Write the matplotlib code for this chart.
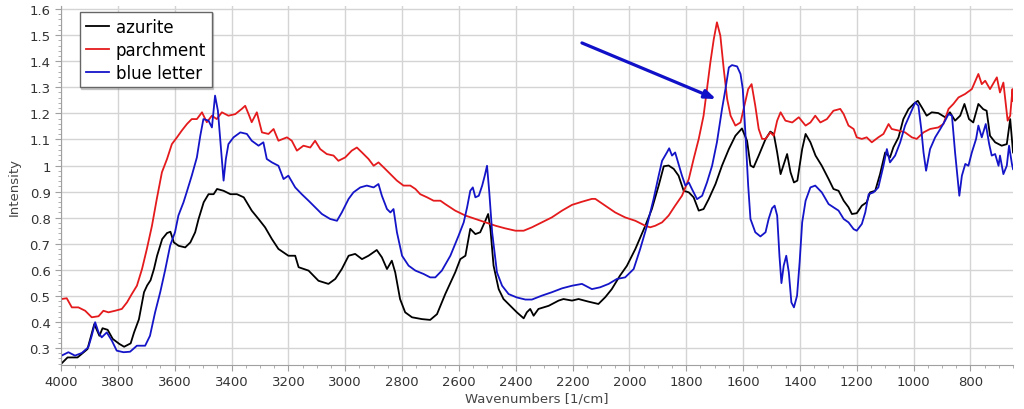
import matplotlib
matplotlib.use("Agg")
import matplotlib.pyplot as plt
from matplotlib.ticker import MultipleLocator, FuncFormatter

azurite_wn = [4000, 3977, 3942, 3907, 3883, 3865, 3854, 3836, 3818, 3795, 3778, 3755, 3743, 3726, 3708, 3697, 3685, 3673, 3662, 3644, 3627, 3615, 3603, 3586, 3563, 3545, 3528, 3516, 3498, 3481, 3463, 3451, 3428, 3404, 3381, 3357,
              3329, 3305, 3282, 3258, 3235, 3200, 3176, 3164, 3129, 3094, 3059, 3035, 3012, 2988, 2965, 2941, 2918, 2889, 2871, 2853, 2836, 2824, 2807, 2789, 2765, 2730, 2701, 2677, 2660, 2648, 2613, 2595, 2577, 2560, 2542, 2525, 2507, 2497, 2489, 2478, 2460, 2443, 2419, 2396, 2372, 2361, 2349, 2337, 2320, 2284, 2249, 2232, 2202, 2179, 2144, 2109, 2085, 2062, 2033, 2009,
              1979, 1944, 1921, 1897, 1879, 1862, 1844, 1827, 1809, 1791, 1774, 1756, 1739, 1721, 1697, 1674, 1650, 1627, 1604, 1586, 1574, 1563, 1545, 1521, 1504, 1492, 1480, 1468, 1445, 1433, 1421, 1409, 1392, 1380, 1363, 1345, 1323, 1299, 1282, 1264, 1246, 1229, 1217, 1200, 1182, 1165, 1153, 1135, 1118, 1100, 1083, 1071, 1053, 1036, 1018, 1000, 985, 971, 954, 936, 913, 889, 872, 854, 836, 821, 805, 790, 772, 755, 743, 731, 713, 690, 672, 660, 650]
azurite_int = [0.239, 0.264, 0.264, 0.296, 0.392, 0.347, 0.376, 0.37, 0.335, 0.316, 0.305, 0.318, 0.36, 0.41, 0.514, 0.54, 0.56, 0.603, 0.654, 0.718, 0.741, 0.746, 0.705, 0.692, 0.686, 0.705, 0.744, 0.795, 0.859, 0.89, 0.89, 0.91, 0.903, 0.89, 0.89, 0.878,
               0.827, 0.795, 0.763, 0.718, 0.68, 0.654, 0.654, 0.61, 0.597, 0.558, 0.546, 0.565, 0.603, 0.654, 0.661, 0.641, 0.654, 0.676, 0.648, 0.603, 0.635, 0.59, 0.488, 0.437, 0.418, 0.411, 0.408, 0.43, 0.475, 0.507, 0.59, 0.641, 0.654, 0.757, 0.737, 0.744, 0.788, 0.814, 0.757, 0.616, 0.526, 0.488, 0.462, 0.437, 0.414, 0.437, 0.45, 0.424, 0.45, 0.462, 0.482, 0.488, 0.482, 0.488, 0.478, 0.469, 0.495, 0.526, 0.578, 0.615,
               0.68, 0.769, 0.833, 0.923, 0.997, 1.0, 0.987, 0.961, 0.903, 0.897, 0.878, 0.827, 0.833, 0.871, 0.929, 1.0, 1.063, 1.114, 1.142, 1.095, 1.0, 0.993, 1.038, 1.101, 1.13, 1.121, 1.05, 0.967, 1.044, 0.974, 0.935, 0.942, 1.063, 1.121, 1.089, 1.038, 0.999, 0.948, 0.91, 0.903, 0.865, 0.84, 0.814, 0.817, 0.846, 0.859, 0.897, 0.903, 0.967, 1.05, 1.031, 1.07, 1.108, 1.178, 1.216, 1.236, 1.248, 1.223, 1.191, 1.204, 1.201, 1.185, 1.204, 1.172, 1.191, 1.236, 1.178, 1.165, 1.236, 1.216, 1.21, 1.114, 1.089, 1.076, 1.082, 1.178, 1.05]

parchment_wn = [3998, 3980, 3962, 3939, 3915, 3892, 3868, 3851, 3833, 3810, 3786, 3768, 3751, 3733, 3715, 3698, 3680, 3663, 3645, 3627, 3610, 3592, 3575, 3557, 3540, 3522, 3504, 3487, 3469, 3452, 3434, 3411, 3387, 3364, 3352, 3340, 3329, 3311, 3293, 3270, 3252, 3235, 3205, 3188, 3170, 3147, 3123, 3106, 3088, 3065, 3041, 3024, 3000, 2977, 2959, 2941, 2918, 2900, 2883, 2865, 2841, 2818, 2795, 2771, 2753, 2736, 2712, 2689, 2665, 2648, 2613, 2577, 2542, 2507, 2471, 2437, 2401, 2372, 2343, 2308, 2273, 2237, 2202, 2167, 2132, 2120, 2085, 2050, 2015,
                1979, 1944, 1927, 1909, 1885, 1862, 1839, 1815, 1791, 1774, 1756, 1739, 1727, 1715, 1703, 1692, 1680, 1668, 1656, 1644, 1627, 1609, 1598, 1582, 1570, 1557, 1545, 1533, 1521, 1504, 1492, 1480, 1468, 1451, 1427, 1404, 1380, 1363, 1346, 1328, 1305, 1282, 1258, 1246, 1229, 1211, 1200, 1182, 1165, 1147, 1124, 1106, 1088, 1077, 1053, 1030, 1006, 989, 965, 942, 913, 895, 877, 860, 842, 819, 795, 772, 760, 748, 731, 707, 696, 684, 669, 660, 652, 650]
parchment_int = [0.488, 0.491, 0.456, 0.456, 0.443, 0.418, 0.422, 0.443, 0.437, 0.443, 0.45, 0.475, 0.507, 0.539, 0.603, 0.68, 0.769, 0.872, 0.974, 1.025, 1.082, 1.108, 1.134, 1.159, 1.178, 1.178, 1.204, 1.166, 1.191, 1.178, 1.204, 1.191, 1.197, 1.217, 1.229, 1.197, 1.166, 1.204, 1.127, 1.121, 1.14, 1.095, 1.108, 1.095, 1.057, 1.076, 1.069, 1.095, 1.063, 1.044, 1.038, 1.018, 1.031, 1.057, 1.069, 1.05, 1.025, 0.999, 1.012, 0.993, 0.967, 0.942, 0.923, 0.923, 0.91, 0.89, 0.878, 0.865, 0.865, 0.852, 0.827, 0.808, 0.795, 0.782, 0.769, 0.759, 0.75, 0.75, 0.763, 0.782, 0.801, 0.827, 0.849, 0.861, 0.872, 0.872, 0.846, 0.82, 0.801,
                 0.788, 0.769, 0.763, 0.769, 0.782, 0.808, 0.846, 0.884, 0.948, 1.025, 1.102, 1.191, 1.293, 1.396, 1.485, 1.549, 1.498, 1.37, 1.255, 1.191, 1.153, 1.165, 1.217, 1.293, 1.312, 1.229, 1.14, 1.102, 1.102, 1.127, 1.114, 1.172, 1.204, 1.172, 1.165, 1.185, 1.153, 1.165, 1.191, 1.165, 1.178, 1.21, 1.217, 1.197, 1.153, 1.14, 1.108, 1.102, 1.108, 1.089, 1.108, 1.121, 1.159, 1.14, 1.134, 1.127, 1.108, 1.102, 1.127, 1.14, 1.146, 1.159, 1.217, 1.236, 1.261, 1.274, 1.293, 1.351, 1.312, 1.325, 1.293, 1.338, 1.28, 1.318, 1.172, 1.191, 1.293, 1.248]

blue_wn = [3998, 3974, 3951, 3927, 3904, 3892, 3880, 3868, 3857, 3839, 3821, 3804, 3780, 3757, 3733, 3704, 3687, 3669, 3651, 3634, 3616, 3599, 3587, 3569, 3558, 3540, 3522, 3510, 3499, 3481, 3469, 3458, 3448, 3438, 3428, 3420, 3411, 3393, 3369, 3346, 3329, 3305, 3288, 3276, 3258, 3235, 3217, 3200, 3176, 3153, 3129, 3106, 3082, 3053, 3029, 3012, 2988, 2971, 2947, 2924, 2900, 2883, 2871, 2853, 2841, 2830, 2818, 2800, 2777, 2753, 2724, 2701, 2683, 2660, 2630, 2601, 2583, 2571, 2560, 2551, 2542, 2530, 2518, 2509, 2501, 2493, 2483, 2466, 2448, 2425, 2396, 2366, 2343, 2308, 2273, 2237, 2202, 2167, 2132, 2103, 2073, 2044, 2015,
           1985, 1962, 1938, 1915, 1897, 1885, 1868, 1860, 1850, 1839, 1827, 1815, 1803, 1791, 1780, 1762, 1744, 1727, 1709, 1692, 1674, 1662, 1650, 1639, 1621, 1609, 1601, 1592, 1582, 1574, 1557, 1539, 1521, 1510, 1498, 1489, 1480, 1472, 1465, 1457, 1448, 1439, 1430, 1421, 1410, 1401, 1392, 1380, 1363, 1346, 1323, 1299, 1282, 1264, 1246, 1229, 1211, 1200, 1182, 1170, 1158, 1141, 1124, 1106, 1094, 1083, 1065, 1047, 1030, 1012, 994, 983, 973, 965, 956, 942, 924, 906, 889, 877, 865, 854, 839, 830, 818, 807, 795, 780, 772, 760, 746, 734, 725, 713, 701, 696, 684, 672, 664, 654, 650]
blue_int = [0.271, 0.284, 0.271, 0.281, 0.303, 0.347, 0.399, 0.36, 0.341, 0.36, 0.328, 0.29, 0.284, 0.286, 0.309, 0.309, 0.347, 0.437, 0.514, 0.597, 0.693, 0.744, 0.808, 0.859, 0.897, 0.961, 1.031, 1.114, 1.178, 1.172, 1.146, 1.268, 1.21, 1.076, 0.942, 1.025, 1.082, 1.108, 1.127, 1.121, 1.095, 1.076, 1.089, 1.025, 1.012, 0.999, 0.948, 0.961, 0.916, 0.89, 0.865, 0.84, 0.814, 0.795, 0.788, 0.82, 0.872, 0.897, 0.916, 0.923, 0.916, 0.929, 0.884, 0.833, 0.82, 0.833, 0.744, 0.654, 0.616, 0.597, 0.584, 0.571, 0.571, 0.597, 0.654, 0.731, 0.782, 0.84, 0.903, 0.916, 0.878, 0.884, 0.923, 0.961, 0.999, 0.897, 0.744, 0.59, 0.539, 0.507, 0.494, 0.486, 0.486, 0.501, 0.514, 0.529, 0.539, 0.546, 0.526, 0.533, 0.546, 0.565, 0.571,
            0.603, 0.68, 0.769, 0.871, 0.961, 1.018, 1.05, 1.066, 1.038, 1.05, 1.006, 0.961, 0.923, 0.935, 0.91, 0.871, 0.884, 0.935, 0.999, 1.089, 1.217, 1.293, 1.376, 1.385, 1.38, 1.351, 1.293, 1.127, 0.923, 0.795, 0.744, 0.728, 0.744, 0.795, 0.836, 0.846, 0.808, 0.654, 0.549, 0.616, 0.654, 0.59, 0.475, 0.456, 0.501, 0.629, 0.782, 0.865, 0.916, 0.923, 0.897, 0.852, 0.84, 0.827, 0.795, 0.782, 0.756, 0.75, 0.776, 0.82, 0.89, 0.897, 0.916, 0.999, 1.063, 1.012, 1.038, 1.089, 1.153, 1.197, 1.242, 1.229, 1.14, 1.05, 0.98, 1.063, 1.108, 1.14, 1.172, 1.197, 1.191, 1.05, 0.884, 0.961, 1.006, 0.999, 1.05, 1.102, 1.153, 1.108, 1.159, 1.082, 1.038, 1.044, 0.999, 1.038, 0.967, 0.999, 1.076, 1.006, 0.986]

series_labels = ["azurite", "parchment", "blue letter"]
x_ticks = [4000, 3800, 3600, 3400, 3200, 3000, 2800, 2600, 2400, 2200, 2000, 1800, 1600, 1400, 1200, 1000, 800]
arrow_start = (2167, 1.47)
arrow_end = (1695, 1.255)

fig = plt.figure(figsize=(10.24, 4.10), dpi=100)
ax = fig.add_axes([0.0596, 0.1073, 0.9297, 0.8746])

ax.plot(azurite_wn, azurite_int, color="black", lw=1.3, label=series_labels[0])
ax.plot(parchment_wn, parchment_int, color="#e41a1c", lw=1.3, label=series_labels[1])
ax.plot(blue_wn, blue_int, color="#1414c8", lw=1.3, label=series_labels[2])

ax.annotate("", xy=arrow_end, xytext=arrow_start,
            arrowprops=dict(arrowstyle="-|>,head_length=0.65,head_width=0.25", color="#1010c8",
                            lw=2.3, shrinkA=0, shrinkB=0))

ax.set_xlim(4000, 650)
ax.set_ylim(0.235, 1.61)
ax.set_xticks(x_ticks)
ax.xaxis.set_minor_locator(MultipleLocator(50))
ax.yaxis.set_major_locator(MultipleLocator(0.1))
ax.yaxis.set_minor_locator(MultipleLocator(0.02))
ax.yaxis.set_major_formatter(FuncFormatter(lambda v, p: "%g" % round(v, 2)))

ax.grid(True, which="major", color="#d4d4d4", lw=1.0)
ax.set_axisbelow(True)
for s in ["top", "right"]:
    ax.spines[s].set_visible(False)
for s in ["left", "bottom"]:
    ax.spines[s].set_color("#a0a0a0")
ax.tick_params(which="major", length=4, color="#a0a0a0", labelsize=9.5, labelcolor="#333333")
ax.tick_params(which="minor", length=2, color="#a0a0a0")

ax.set_xlabel("Wavenumbers [1/cm]", fontsize=9.5, color="#444444", labelpad=2)
ax.set_ylabel("Intensity", fontsize=9.5, color="#444444", labelpad=6)

leg = ax.legend(loc="upper left", bbox_to_anchor=(0.02, 0.985), borderaxespad=0, fontsize=12,
                handlelength=1.4, handletextpad=0.4, labelspacing=0.3, fancybox=False,
                edgecolor="#666666", framealpha=1, borderpad=0.35,
                shadow={"ox": 1, "oy": -1, "color": "0.5", "alpha": 0.35})
leg.get_frame().set_linewidth(1.0)

fig.savefig("out.png", dpi=100)
